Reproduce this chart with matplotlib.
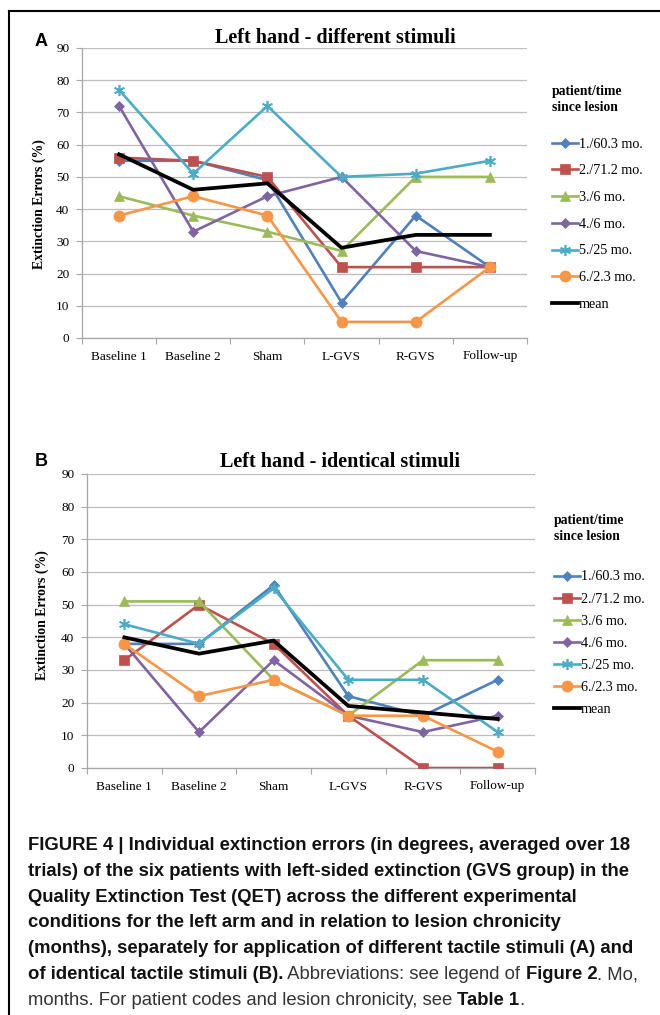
import matplotlib
matplotlib.use('Agg')
import matplotlib.pyplot as plt
from matplotlib.lines import Line2D
from matplotlib.text import Annotation

# ---------------- data ----------------
conditions = ['Baseline 1', 'Baseline 2', 'Sham', 'L-GVS', 'R-GVS', 'Follow-up']
patient_labels = ['1./60.3 mo.', '2./71.2 mo.', '3./6 mo.', '4./6 mo.', '5./25 mo.', '6./2.3 mo.']
mean_label = 'mean'
yticks = [0, 10, 20, 30, 40, 50, 60, 70, 80, 90]

# Panel A: different stimuli
a_p1 = [55, 55, 49, 11, 38, 22]
a_p2 = [56, 55, 50, 22, 22, 22]
a_p3 = [44, 38, 33, 27, 50, 50]
a_p4 = [72, 33, 44, 50, 27, 22]
a_p5 = [77, 51, 72, 50, 51, 55]
a_p6 = [38, 44, 38, 5, 5, 22]
a_mean = [57, 46, 48, 28, 32, 32]

# Panel B: identical stimuli
b_p1 = [38, 38, 56, 22, 16, 27]
b_p2 = [33, 50, 38, 16, 0, 0]
b_p3 = [51, 51, 27, 16, 33, 33]
b_p4 = [38, 11, 33, 16, 11, 16]
b_p5 = [44, 38, 55, 27, 27, 11]
b_p6 = [38, 22, 27, 16, 16, 5]
b_mean = [40, 35, 39, 19, 17, 15]

title_a = 'Left hand - different stimuli'
title_b = 'Left hand - identical stimuli'
ylabel = 'Extinction Errors (%)'
legend_title = 'patient/time\nsince lesion'

# ---------------- styles ----------------
colors = ['#4F81BD', '#C0504D', '#9BBB59', '#8064A2', '#4BACC6', '#F79646']
markers = ['D', 's', '^', 'D', (6, 2, 0), 'o']
msizes = [5.5, 7.5, 7.5, 5.5, 8, 8]

W, H = 660, 1015
fig = plt.figure(figsize=(W / 100, H / 100), dpi=100)
SERIF = ['Liberation Serif', 'DejaVu Serif']
SANS = ['Liberation Sans', 'DejaVu Sans']


def fx(x):
    return x / W


def fy(y):
    return 1 - y / H


def make_panel(rect_px, series, mean, title, title_xy, letter_xy, ylabel_xy,
               header_xy, legend_xy, labelspacing):
    l, t, r, b = rect_px
    ax = fig.add_axes([fx(l), fy(b), (r - l) / W, (b - t) / H])
    x = list(range(len(conditions)))
    handles = []
    for i, s in enumerate(series):
        (ln,) = ax.plot(x, s, color=colors[i], lw=1.9, marker=markers[i],
                        ms=msizes[i], mec=colors[i],
                        mew=1.2 if i == 4 else 0.5,
                        label=patient_labels[i], zorder=3 + i * 0.1,
                        solid_joinstyle='miter')
        handles.append(ln)
    (lm,) = ax.plot(x, mean, color='black', lw=2.7, label=mean_label,
                    zorder=4, solid_joinstyle='miter')
    handles.append(lm)

    ax.set_xlim(-0.5, len(conditions) - 0.5)
    ax.set_ylim(0, 90)
    ax.set_yticks(yticks)
    ax.set_yticklabels([str(v) for v in yticks], family=SERIF, fontsize=9.5)
    ax.set_xticks([i - 0.5 for i in range(len(conditions) + 1)])
    ax.set_xticklabels([])
    ax.set_xticks(x, minor=True)
    ax.set_xticklabels(conditions, minor=True, family=SERIF, fontsize=9.5)
    ax.tick_params(axis='x', which='minor', length=0, pad=9)
    ax.tick_params(axis='x', which='major', length=4, color='#A6A6A6',
                   direction='out')
    ax.tick_params(axis='y', length=4, color='#A6A6A6', direction='out',
                   pad=5)
    ax.yaxis.grid(True, color='#BDBDBD', lw=0.9)
    ax.set_axisbelow(True)
    for sp in ['top', 'right']:
        ax.spines[sp].set_visible(False)
    for sp in ['left', 'bottom']:
        ax.spines[sp].set_color('#A6A6A6')
        ax.spines[sp].set_linewidth(0.9)

    fig.text(fx(title_xy[0]), fy(title_xy[1]), title, ha='center', va='center',
             family=SERIF, fontweight='bold', fontsize=14.5)
    fig.text(fx(letter_xy[0]), fy(letter_xy[1]), letter_xy[2], ha='left',
             va='center', family=SANS, fontweight='bold', fontsize=13)
    fig.text(fx(ylabel_xy[0]), fy(ylabel_xy[1]), ylabel, rotation=90,
             ha='center', va='center', family=SERIF, fontweight='bold',
             fontsize=9.9)
    fig.text(fx(header_xy[0]), fy(header_xy[1]), legend_title, ha='left',
             va='top', family=SERIF, fontweight='bold', fontsize=9.8,
             linespacing=1.3)
    fig.legend(handles=handles, loc='upper left',
               bbox_to_anchor=(fx(legend_xy[0]), fy(legend_xy[1])),
               bbox_transform=fig.transFigure, frameon=False, borderpad=0,
               borderaxespad=0, handlelength=1.85, handletextpad=0.05,
               labelspacing=labelspacing, numpoints=1,
               prop={'family': SERIF, 'size': 10.2})
    return ax


make_panel((82, 48, 527, 338), [a_p1, a_p2, a_p3, a_p4, a_p5, a_p6], a_mean,
           title_a, (335.5, 38), (35, 41, 'A'), (39, 204), (552, 85),
           (552, 137.5), 0.97)
make_panel((87, 474, 535, 768), [b_p1, b_p2, b_p3, b_p4, b_p5, b_p6], b_mean,
           title_b, (340, 462), (35, 461, 'B'), (42, 615), (554, 514),
           (554, 570.5), 0.64)

# frame lines
fig.add_artist(Line2D([fx(9), fx(660)], [fy(11), fy(11)], color='black',
                      lw=1.5, transform=fig.transFigure))
fig.add_artist(Line2D([fx(9), fx(9)], [fy(11), fy(1015)], color='black',
                      lw=1.5, transform=fig.transFigure))

# caption
caption_lines = [
    [('FIGURE 4 | Individual extinction errors (in degrees, averaged over 18', True)],
    [('trials) of the six patients with left-sided extinction (GVS group) in the', True)],
    [('Quality Extinction Test (QET) across the different experimental', True)],
    [('conditions for the left arm and in relation to lesion chronicity', True)],
    [('(months), separately for application of different tactile stimuli (A) and', True)],
    [('of identical tactile stimuli (B).', True),
     (' Abbreviations: see legend of ', False), ('Figure 2', True),
     ('. Mo,', False)],
    [('months. For patient codes and lesion chronicity, see ', False),
     ('Table 1', True), ('.', False)],
]
cap_fs = 13.3
y0 = 850
step = 25.8
for i, runs in enumerate(caption_lines):
    prev = None
    for txt, bold in runs:
        kw = dict(family=SANS, fontsize=cap_fs,
                  fontweight='bold' if bold else 'normal',
                  color='#111111' if bold else '#333333', ha='left')
        if prev is None:
            prev = fig.text(fx(28), fy(y0 + i * step), txt, va='baseline',
                            **kw)
        else:
            ann = Annotation(txt, xy=(1, 0), xycoords=prev, va='bottom', **kw)
            fig.add_artist(ann)
            prev = ann

fig.savefig('out.png', dpi=100)
